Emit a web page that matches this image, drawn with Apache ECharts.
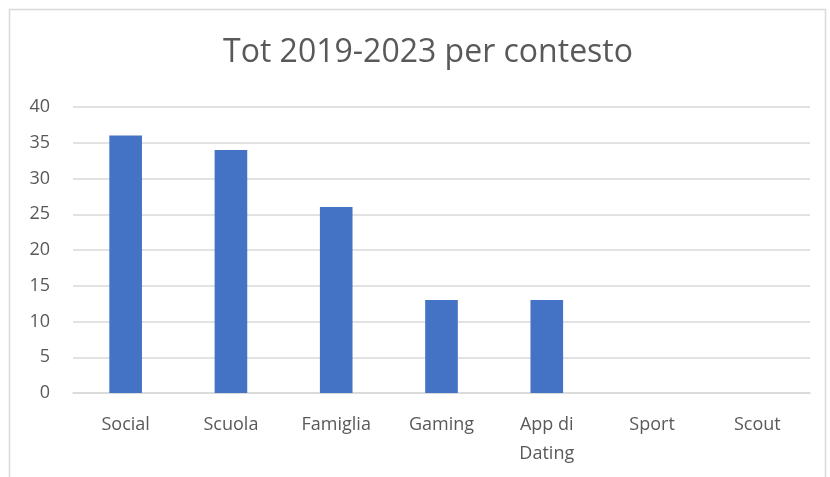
<!DOCTYPE html>
<html><head><meta charset="utf-8">
<script src="https://cdn.jsdelivr.net/npm/echarts@6/dist/echarts.min.js"></script>
<style>html,body{margin:0;padding:0;background:#fff}#c{width:830px;height:477px}</style>
</head><body><div id="c"></div>
<script>
const categories = ['Social','Scuola','Famiglia','Gaming','App di\nDating','Sport','Scout'];
const values = [36, 34, 26, 13, 13, 0, 0];
const yTicks = {min: 0, max: 40, interval: 5};
const title = 'Tot 2019-2023 per contesto';

const chart = echarts.init(document.getElementById('c'), null, {renderer:'canvas'});
chart.setOption({
  animation:false,
  backgroundColor:'#fff',
  graphic:[{type:'rect', shape:{x:9.5,y:9.5,width:816,height:480}, style:{fill:'none',stroke:'#d9d9d9',lineWidth:1.5}, silent:true}],
  title:{text:title, left:218, top:32, textStyle:{fontFamily:'Open Sans', fontSize:32, fontWeight:'normal', color:'#595959'}},
  grid:{left:73, right:20, top:107, bottom:84, containLabel:false},
  xAxis:{type:'category', data:categories,
    axisLine:{lineStyle:{color:'#d9d9d9', width:1.5}}, axisTick:{show:false},
    axisLabel:{fontFamily:'Open Sans', fontSize:18, color:'#595959', margin:17, interval:0, lineHeight:29}},
  yAxis:{type:'value', min:yTicks.min, max:yTicks.max, interval:yTicks.interval,
    axisLine:{show:false}, axisTick:{show:false},
    splitLine:{lineStyle:{color:'#d9d9d9', width:1.5}},
    axisLabel:{fontFamily:'Open Sans', fontSize:18, color:'#595959', margin:23}},
  series:[{type:'bar', data:values, barWidth:'31%', itemStyle:{color:'#4472c4'}}]
});
</script></body></html>
